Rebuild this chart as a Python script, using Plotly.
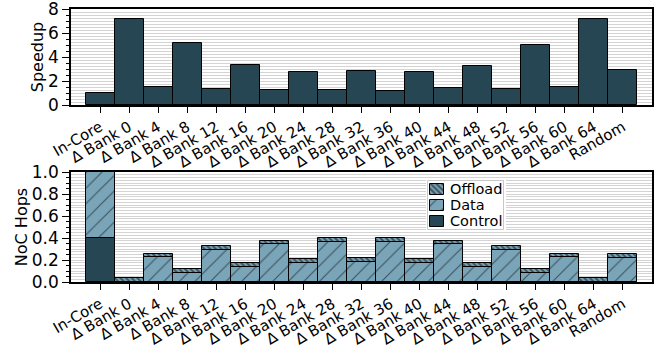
import plotly.graph_objects as go

categories = ["In-Core"] + [f"Δ Bank {b}" for b in range(0, 65, 4)] + ["Random"]

speedup = [1.0, 7.15, 1.47, 5.15, 1.31, 3.31, 1.25, 2.72, 1.25, 2.83, 1.17,
           2.75, 1.39, 3.25, 1.31, 5.0, 1.47, 7.17, 2.94]

hops_control = [0.40, 0, 0, 0, 0, 0, 0, 0, 0, 0, 0, 0, 0, 0, 0, 0, 0, 0, 0]
hops_data = [0.60, 0.0, 0.223, 0.081, 0.295, 0.14, 0.343, 0.175, 0.364, 0.184,
             0.367, 0.172, 0.343, 0.136, 0.295, 0.081, 0.223, 0.0, 0.217]
hops_offload = [0.0, 0.036, 0.036, 0.033, 0.033, 0.03, 0.03, 0.033, 0.036, 0.03,
                0.033, 0.033, 0.03, 0.033, 0.033, 0.033, 0.033, 0.036, 0.036]

legend_labels = ["Offload", "Data", "Control"]

DARK = "#264653"
LIGHT = "#7aa5b8"
GRID = "#d3d3d3"
FONT = "DejaVu Sans"

OUTLINE = dict(color="black", width=1)
STYLES = {
    "Control": dict(color=DARK, line=OUTLINE),
    "Data": dict(color=LIGHT, line=OUTLINE,
                 pattern=dict(shape="/", size=11, solidity=0.1, fgcolor="black",
                              bgcolor=LIGHT, fillmode="overlay")),
    "Offload": dict(color=LIGHT, line=OUTLINE,
                    pattern=dict(shape="\\", size=4, solidity=0.5, fgcolor="black",
                                 bgcolor=LIGHT, fillmode="overlay")),
}

x = list(range(len(categories)))

fig = go.Figure()

# Speedup panel
fig.add_trace(go.Bar(x=x, y=speedup, width=1, marker=STYLES["Control"],
                     xaxis="x", yaxis="y"))

# NoC hop breakdown panel, stacked explicitly through each segment's base
stack_base = [0.0] * len(x)
for name, vals in [("Control", hops_control), ("Data", hops_data), ("Offload", hops_offload)]:
    fig.add_trace(go.Bar(x=x, y=vals, base=list(stack_base), width=1, name=name,
                         marker=STYLES[name], xaxis="x2", yaxis="y2"))
    stack_base = [b + v for b, v in zip(stack_base, vals)]

# Legend drawn in its own small axes (pixel-like units, y pointing down)
LEG_X, LEG_Y, LEG_W, LEG_H = 428, 181, 76, 49
PAD = 2
fig.add_trace(go.Bar(x=[LEG_W / 2], y=[LEG_H], base=[0], width=LEG_W,
                     marker=dict(color="rgba(255,255,255,0.9)", line=dict(color="#c8c8c8", width=1)),
                     xaxis="x5", yaxis="y5", hoverinfo="skip"))
for i, name in enumerate(legend_labels):
    yc = 8 + 16 * i
    fig.add_trace(go.Bar(x=[9], y=[11], base=[yc - 5.5], width=14,
                         marker=STYLES[name], xaxis="x5", yaxis="y5", hoverinfo="skip"))
    fig.add_annotation(x=20, y=yc, xref="x5", yref="y5", text=name, showarrow=False,
                       xanchor="left", yanchor="middle",
                       font=dict(family=FONT, size=14.5, color="black"))

dom_x = [71 / 670, 652 / 670]
dom_top = [1 - 105 / 350, 1 - 9 / 350]
dom_bot = [1 - 282 / 350, 1 - 172 / 350]

xcommon = dict(
    range=[-1, 19], tickmode="array", tickvals=x, ticktext=categories,
    tickangle=-30, ticks="outside", ticklen=6, tickwidth=1.2, tickcolor="black",
    showline=True, linecolor="black", linewidth=1.5, mirror=True,
    showgrid=False, zeroline=False, automargin=False,
    tickfont=dict(family=FONT, size=15, color="black"),
)

ycommon = dict(
    ticks="outside", ticklen=7, tickwidth=1.2, tickcolor="black",
    showline=True, linecolor="black", linewidth=1.5, mirror=True,
    showgrid=True, gridcolor=GRID, gridwidth=1, zeroline=False, automargin=False,
    ticklabeloverflow="allow",
    tickfont=dict(family=FONT, size=17, color="black"),
)

hidden = dict(visible=False, showgrid=False, zeroline=False, automargin=False, fixedrange=True)

fig.update_layout(
    width=670, height=350,
    margin=dict(l=0, r=0, t=0, b=0),
    paper_bgcolor="white", plot_bgcolor="white",
    barmode="overlay", bargap=0, showlegend=False,
    font=dict(family=FONT, color="black"),
    xaxis=dict(domain=dom_x, anchor="y", **xcommon),
    yaxis=dict(domain=dom_top, anchor="x", range=[0, 8], dtick=2,
               minor=dict(dtick=0.25, showgrid=True, gridcolor=GRID, ticks=""),
               title=dict(text="Speedup", font=dict(family=FONT, size=16), standoff=0),
               **ycommon),
    yaxis3=dict(overlaying="y", anchor="x", range=[0, 8], side="left",
                showticklabels=False, showgrid=False, zeroline=False, automargin=False,
                tickvals=[], minor=dict(dtick=0.5, ticks="outside", ticklen=4,
                                        tickcolor="black", tickwidth=1, showgrid=False)),
    xaxis2=dict(domain=dom_x, anchor="y2", **xcommon),
    yaxis2=dict(domain=dom_bot, anchor="x2", range=[0, 1.0], dtick=0.2, tickformat=".1f",
                minor=dict(dtick=0.025, showgrid=True, gridcolor=GRID, ticks=""),
                title=dict(text="NoC Hops", font=dict(family=FONT, size=16), standoff=0),
                **ycommon),
    yaxis4=dict(overlaying="y2", anchor="x2", range=[0, 1.0], side="left",
                showticklabels=False, showgrid=False, zeroline=False, automargin=False,
                tickvals=[], minor=dict(dtick=0.05, ticks="outside", ticklen=4,
                                        tickcolor="black", tickwidth=1, showgrid=False)),
    xaxis5=dict(domain=[(LEG_X - PAD) / 670, (LEG_X + LEG_W + PAD) / 670], anchor="y5",
                range=[-PAD, LEG_W + PAD], **hidden),
    yaxis5=dict(domain=[1 - (LEG_Y + LEG_H + PAD) / 350, 1 - (LEG_Y - PAD) / 350], anchor="x5",
                range=[LEG_H + PAD, -PAD], **hidden),
)

# invisible traces so the overlay minor-tick axes are rendered
fig.add_trace(go.Scatter(x=[None], y=[None], xaxis="x", yaxis="y3", hoverinfo="skip"))
fig.add_trace(go.Scatter(x=[None], y=[None], xaxis="x2", yaxis="y4", hoverinfo="skip"))

fig.write_html("out.html")
